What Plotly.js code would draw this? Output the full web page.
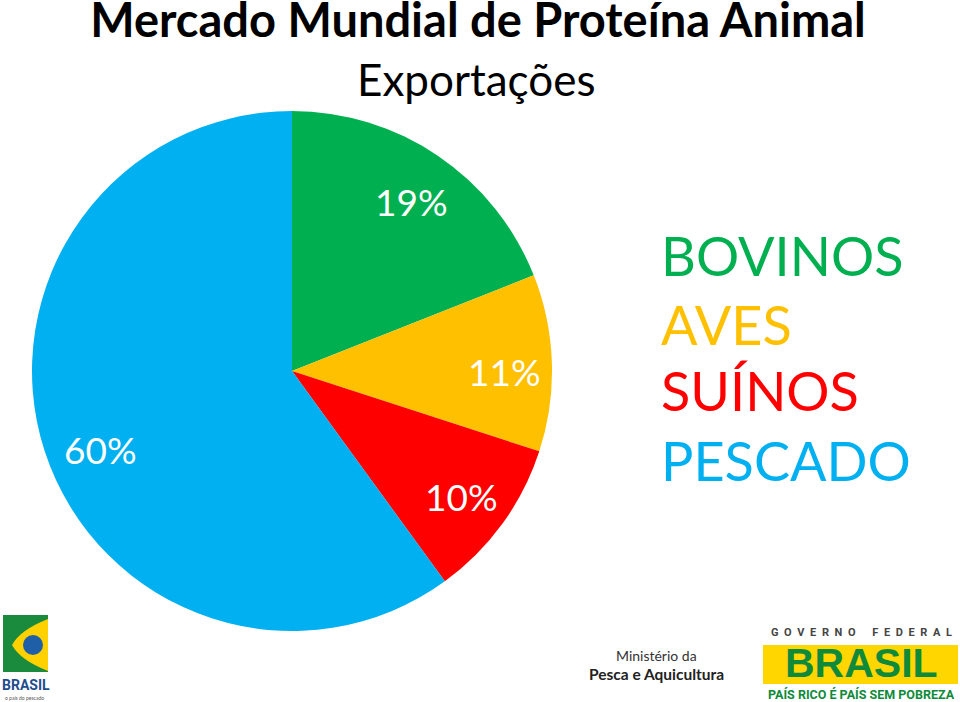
<!DOCTYPE html>
<html>
<head>
<meta charset="utf-8">
<script src="https://cdn.plot.ly/plotly-3.0.1.min.js"></script>
<style>
  html, body { margin: 0; padding: 0; background: #fff; }
  #chart { width: 960px; height: 702px; }
</style>
</head>
<body>
<div id="chart"></div>
<script>
// Exportações - participação por proteína
const labels = ['BOVINOS', 'AVES', 'SUÍNOS', 'PESCADO'];
const values = [19, 11, 10, 60];
const colors = ['#00B050', '#FFC000', '#FF0000', '#00B0F0'];

const W = 960, H = 702;
const px = x => x / W;
const py = y => 1 - y / H;
const FONT = 'Lato, "Open Sans", sans-serif';

// label spots (pixels), same order as values
const labelPos = [[411, 201], [505, 371], [461, 496], [100, 449]];

const pieTrace = {
    type: 'pie',
    labels: labels,
    values: values,
    sort: false,
    direction: 'clockwise',
    rotation: 0,
    marker: { colors: colors, line: { width: 0 } },
    textinfo: 'none',
    hoverinfo: 'none',
    showlegend: false,
    domain: { x: [px(32), px(552)], y: [py(631), py(111)] }
};

const total = values.reduce((a, b) => a + b, 0);
const annotations = [];

// percentages on the slices
values.forEach((v, i) => {
    annotations.push({
        xref: 'paper', yref: 'paper',
        x: px(labelPos[i][0]), y: py(labelPos[i][1]),
        text: Math.round(v / total * 100) + '%',
        showarrow: false, xanchor: 'center', yanchor: 'middle',
        font: { family: FONT, size: 37, color: '#ffffff' }
    });
});

// coloured word legend
const legendY = [255, 324, 390, 460];
labels.forEach((l, i) => {
    annotations.push({
        xref: 'paper', yref: 'paper',
        x: px(659), y: py(legendY[i]),
        text: l,
        showarrow: false, xanchor: 'left', yanchor: 'middle',
        font: { family: FONT, size: 54, color: colors[i] }
    });
});

// subtitle
annotations.push({
    xref: 'paper', yref: 'paper', x: px(476), y: py(79),
    text: 'Exportações', showarrow: false, xanchor: 'center', yanchor: 'middle',
    font: { family: FONT, size: 44, color: '#000' }
});

// footer logos (text parts)
const sp = s => s.split('').join('\u2002');
const footer = [
    { x: 26, y: 685, t: '<b>BRASIL</b>', s: 14, c: '#1F4E8C', f: 'Roboto' },
    { x: 24, y: 698, t: 'o país do pescado', s: 5, c: '#555' },
    { x: 656, y: 655, t: 'Ministério da', s: 14, c: '#333' },
    { x: 656, y: 674, t: '<b>Pesca e Aquicultura</b>', s: 15.5, c: '#222' },
    { x: 861, y: 632, t: '<b>' + sp('GOVERNO') + '\u2003\u2002' + sp('FEDERAL') + '</b>', s: 11, c: '#444', f: 'Roboto' },
    { x: 861, y: 663, t: '<b>BRASIL</b>', s: 41, c: '#0E8A3A', f: '"Liberation Sans"' },
    { x: 861, y: 694, t: '<b>PAÍS RICO É PAÍS SEM POBREZA</b>', s: 12.5, c: '#0E8A3A', f: 'Roboto' }
];
footer.forEach(o => {
    annotations.push({
        xref: 'paper', yref: 'paper', x: px(o.x), y: py(o.y),
        text: o.t, showarrow: false, xanchor: 'center', yanchor: 'middle',
        font: { family: o.f || FONT, size: o.s, color: o.c }
    });
});

const shapes = [
    // left logo
    { type: 'rect', xref: 'paper', yref: 'paper', x0: px(3), x1: px(48), y0: py(672), y1: py(615),
      fillcolor: '#1A8A3C', line: { width: 0 } },
    { type: 'path', xref: 'paper', yref: 'paper',
      path: `M ${px(48)} ${py(619)} Q ${px(20)} ${py(630)} ${px(12)} ${py(645)} Q ${px(20)} ${py(660)} ${px(48)} ${py(671)} Z`,
      fillcolor: '#FFD100', line: { width: 0 } },
    { type: 'circle', xref: 'paper', yref: 'paper', x0: px(23), x1: px(43), y0: py(655), y1: py(635),
      fillcolor: '#1F5FA8', line: { width: 0 } },
    // right logo band
    { type: 'rect', xref: 'paper', yref: 'paper', x0: px(763), x1: px(958), y0: py(684), y1: py(645),
      fillcolor: '#FFD600', line: { width: 0 }, layer: 'below' }
];

const layout = {
    width: W, height: H,
    margin: { l: 0, r: 0, t: 0, b: 0 },
    paper_bgcolor: '#ffffff',
    title: {
        text: '<b>Mercado Mundial de Proteína Animal</b>',
        x: px(478), xanchor: 'center', y: py(21), yanchor: 'middle',
        font: { family: FONT, size: 47, color: '#000' }
    },
    annotations: annotations,
    shapes: shapes
};

Plotly.newPlot('chart', [pieTrace], layout, { displayModeBar: false, staticPlot: true });
</script>
</body>
</html>
